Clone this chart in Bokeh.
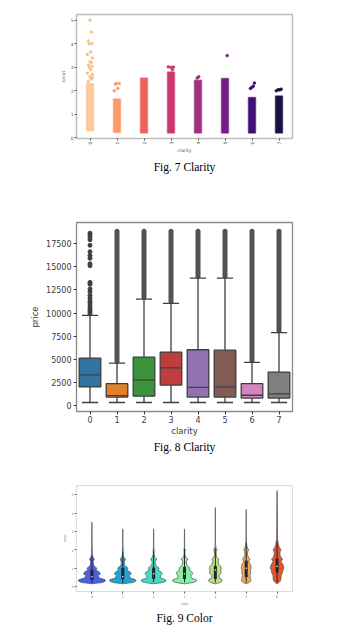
import math
from bokeh.plotting import figure
from bokeh.layouts import column
from bokeh.models import Title, FixedTicker
from bokeh.embed import file_html
from bokeh.resources import INLINE

# ---------------- Fig. 7 : strip plot carat by clarity ----------------
strip_cats = [0, 1, 2, 3, 4, 5, 6, 7]
strip_low = [0.30, 0.23, 0.20, 0.20, 0.20, 0.20, 0.20, 0.20]
strip_high = [2.30, 1.65, 2.55, 2.80, 2.45, 2.52, 1.72, 1.78]
strip_colors = ["#fdc28a", "#fc9a6a", "#ef605d", "#c9386e", "#a0307e", "#72207f", "#420f75", "#1a1042"]
strip_out_cat = [0, 0, 0, 0, 0, 0, 0, 0, 0, 0, 0, 0, 0, 0, 0, 0, 0, 0, 0, 0,
                 1, 1, 1, 1, 1, 3, 3, 3, 3, 4, 4, 5, 6, 6, 6, 6, 7, 7, 7, 7]
strip_out_val = [2.40, 2.50, 2.60, 2.70, 2.75, 2.90, 3.00, 3.05, 3.10, 3.20, 3.25, 3.40,
                 3.55, 3.65, 4.00, 4.01, 4.13, 4.50, 5.01, 2.55,
                 2.00, 2.10, 2.30, 2.31, 2.29, 2.90, 3.00, 3.01, 3.02, 2.60, 2.55, 3.50,
                 2.10, 2.20, 2.15, 2.33, 2.00, 2.04, 2.05, 2.07]

# ---------------- Fig. 8 : box plot price by clarity ----------------
box_cats = [0, 1, 2, 3, 4, 5, 6, 7]
box_q1 = [2050, 950, 1050, 2250, 950, 950, 850, 850]
box_med = [3350, 1100, 2800, 4100, 2000, 2050, 1150, 1300]
box_q3 = [5150, 2400, 5250, 5800, 6050, 6000, 2400, 3650]
box_lo = [370, 370, 370, 370, 370, 370, 370, 370]
box_hi = [9750, 4600, 11500, 11050, 13750, 13750, 4700, 7900]
box_out_max = [18600, 18800, 18800, 18800, 18800, 18800, 18800, 18800]
box_colors = ["#3274a1", "#e1812c", "#3a923a", "#c03d3e", "#9372b2", "#845b53", "#d684bd", "#7f7f7f"]
cat0_outliers = [18600, 18400, 18200, 17900, 17300, 16600, 16200, 15900, 15300, 15100,
                 13300, 13100, 12600, 12300, 11900, 11600, 11300, 11100, 10800, 10500,
                 10300, 10100, 9900]

# ---------------- Fig. 9 : violin plot carat by color ----------------
vio_cats = [0, 1, 2, 3, 4, 5, 6]
vio_colors = ["#4a5fe6", "#1ea3d8", "#40dcc6", "#86f0a8", "#b8e07e", "#f1a85f", "#e5552f"]
vio_grid = [0.15, 0.22, 0.30, 0.38, 0.45, 0.52, 0.60, 0.70, 0.80, 0.90, 1.00, 1.10,
            1.20, 1.35, 1.50, 1.60, 1.75, 1.90, 2.00, 2.10, 2.30, 2.60]
vio_hw = [
    [0.0, 0.34, 0.44, 0.42, 0.27, 0.22, 0.20, 0.28, 0.23, 0.13, 0.16, 0.08, 0.05, 0.04, 0.08, 0.03, 0.012, 0.010, 0.016, 0.007, 0.005, 0.004],
    [0.0, 0.33, 0.43, 0.41, 0.26, 0.23, 0.21, 0.28, 0.23, 0.13, 0.17, 0.09, 0.05, 0.05, 0.09, 0.03, 0.012, 0.010, 0.017, 0.007, 0.005, 0.004],
    [0.0, 0.30, 0.40, 0.38, 0.24, 0.22, 0.22, 0.28, 0.24, 0.14, 0.18, 0.10, 0.06, 0.05, 0.10, 0.04, 0.014, 0.012, 0.020, 0.008, 0.005, 0.004],
    [0.0, 0.29, 0.39, 0.37, 0.23, 0.21, 0.21, 0.27, 0.24, 0.15, 0.18, 0.11, 0.07, 0.06, 0.11, 0.04, 0.015, 0.012, 0.022, 0.008, 0.005, 0.004],
    [0.0, 0.16, 0.22, 0.21, 0.14, 0.12, 0.12, 0.17, 0.19, 0.17, 0.20, 0.17, 0.12, 0.09, 0.11, 0.05, 0.025, 0.03, 0.06, 0.02, 0.008, 0.004],
    [0.0, 0.10, 0.15, 0.15, 0.13, 0.13, 0.12, 0.14, 0.14, 0.14, 0.16, 0.15, 0.14, 0.08, 0.12, 0.07, 0.04, 0.05, 0.08, 0.04, 0.012, 0.006],
    [0.0, 0.06, 0.11, 0.12, 0.13, 0.13, 0.13, 0.16, 0.18, 0.19, 0.22, 0.21, 0.19, 0.13, 0.18, 0.12, 0.09, 0.10, 0.13, 0.08, 0.04, 0.015],
]
vio_top = [3.50, 3.14, 3.14, 3.14, 4.30, 4.20, 5.23]
vio_q1 = [0.36, 0.40, 0.41, 0.41, 0.41, 0.52, 0.77]
vio_med = [0.53, 0.53, 0.70, 0.70, 0.90, 1.00, 1.11]
vio_q3 = [0.90, 1.01, 1.03, 1.07, 1.12, 1.41, 1.52]
vio_wlo = [0.20, 0.20, 0.23, 0.23, 0.23, 0.23, 0.23]
vio_whi = [1.70, 1.90, 1.95, 2.05, 2.10, 2.40, 2.50]

CAP_FONT = "Liberation Serif"


def caption(p, text, standoff):
    t = Title(text=text, align="center", text_font=CAP_FONT, text_font_size="11.5px",
              text_font_style="normal", text_color="#000000", standoff=standoff)
    p.add_layout(t, "below")


def style_axes(p, font, label_font, color, tick_out, standoff, frame_color):
    for ax in (p.xaxis[0], p.yaxis[0]):
        ax.axis_line_color = None
        ax.major_tick_out = tick_out
        ax.major_tick_in = 0
        ax.minor_tick_out = 0
        ax.minor_tick_in = 0
        ax.major_tick_line_color = color
        ax.major_label_text_font = "DejaVu Sans"
        ax.major_label_text_font_size = font
        ax.major_label_text_color = color
        ax.major_label_standoff = standoff
        ax.axis_label_text_font = "DejaVu Sans"
        ax.axis_label_text_font_size = label_font
        ax.axis_label_text_font_style = "normal"
        ax.axis_label_text_color = color
    p.xgrid.visible = False
    p.ygrid.visible = False
    p.outline_line_color = frame_color
    p.background_fill_color = "white"
    p.border_fill_color = "white"


# ---------- figure 1 ----------
p1 = figure(width=354, height=180, x_range=(-0.5, 7.5), y_range=(-0.03, 5.25),
            min_border_left=54, min_border_right=48, min_border_top=14, min_border_bottom=42,
            output_backend="svg", toolbar_location=None,
            x_axis_label="clarity", y_axis_label="carat")
style_axes(p1, "4.5px", "4.5px", "#555555", 2, 1, "#bdbdbd")
p1.outline_line_width = 1.5
p1.xaxis.ticker = FixedTicker(ticks=strip_cats)
p1.yaxis.ticker = FixedTicker(ticks=[0, 1, 2, 3, 4, 5])
p1.xaxis.major_label_orientation = math.pi / 2
p1.xaxis.axis_label_standoff = 1
p1.yaxis.axis_label_standoff = 2

for i, c in enumerate(strip_cats):
    p1.quad(left=c - 0.13, right=c + 0.13, bottom=strip_low[i], top=strip_high[i],
            fill_color=strip_colors[i], line_color=strip_colors[i], line_width=1.5,
            fill_alpha=0.85 if i == 0 else 1.0, line_alpha=0.6)
jit_pattern = [-0.06, 0.05, 0.0, 0.09, -0.1, 0.03, -0.03, 0.08]
ox = [c + jit_pattern[k % len(jit_pattern)] for k, c in enumerate(strip_out_cat)]
oc = [strip_colors[c] for c in strip_out_cat]
p1.scatter(ox, strip_out_val, size=2.5, fill_color=oc, line_color=oc)
caption(p1, "Fig. 7 Clarity", 4)

# ---------- figure 2 ----------
p2 = figure(width=354, height=290, x_range=(-0.5, 7.5), y_range=(-600, 19750),
            min_border_left=56, min_border_right=44, min_border_top=42, min_border_bottom=59,
            output_backend="svg", toolbar_location=None,
            x_axis_label="clarity", y_axis_label="price")
style_axes(p2, "8px", "8.5px", "#3b3b3b", 3, 1, "#8a8a8a")
p2.outline_line_width = 1.3
p2.xaxis.ticker = FixedTicker(ticks=box_cats)
p2.yaxis.ticker = FixedTicker(ticks=[0, 2500, 5000, 7500, 10000, 12500, 15000, 17500])
p2.yaxis.major_label_standoff = 2
p2.xaxis.axis_label_standoff = 0
p2.yaxis.axis_label_standoff = 3

edge = "#3f3f3f"
dense_x = [c for c in box_cats if c != 0]
p2.segment(x0=dense_x, y0=[box_hi[c] + 200 for c in dense_x], x1=dense_x,
           y1=[box_out_max[c] for c in dense_x], line_color=edge, line_width=5,
           line_cap="round", line_alpha=0.9)
p2.scatter([0] * len(cat0_outliers), cat0_outliers, size=4, fill_color=edge, line_color=edge)
p2.segment(x0=box_cats, y0=box_lo, x1=box_cats, y1=box_q1, line_color=edge, line_width=1.3)
p2.segment(x0=box_cats, y0=box_q3, x1=box_cats, y1=box_hi, line_color=edge, line_width=1.3)
p2.segment(x0=[c - 0.3 for c in box_cats], y0=box_lo, x1=[c + 0.3 for c in box_cats], y1=box_lo,
           line_color=edge, line_width=1.3)
p2.segment(x0=[c - 0.3 for c in box_cats], y0=box_hi, x1=[c + 0.3 for c in box_cats], y1=box_hi,
           line_color=edge, line_width=1.3)
p2.quad(left=[c - 0.4 for c in box_cats], right=[c + 0.4 for c in box_cats], bottom=box_q1,
        top=box_q3, fill_color=box_colors, line_color=edge, line_width=1.3)
p2.segment(x0=[c - 0.4 for c in box_cats], y0=box_med, x1=[c + 0.4 for c in box_cats], y1=box_med,
           line_color=edge, line_width=1.3)
caption(p2, "Fig. 8 Clarity", 0)

# ---------- figure 3 ----------
p3 = figure(width=354, height=159, x_range=(-0.5, 6.5), y_range=(-0.27, 5.5),
            min_border_left=76, min_border_right=62, min_border_top=15, min_border_bottom=38,
            output_backend="svg", toolbar_location=None,
            x_axis_label="color", y_axis_label="carat")
style_axes(p3, "3px", "3px", "#666666", 2, 1, "#dcdcdc")
p3.outline_line_width = 1.2
p3.xaxis.ticker = FixedTicker(ticks=vio_cats)
p3.yaxis.ticker = FixedTicker(ticks=[0, 1, 2, 3, 4, 5])
p3.xaxis.axis_label_standoff = 1
p3.yaxis.axis_label_standoff = 2

vx, vy = [], []
for i, c in enumerate(vio_cats):
    ys = list(vio_grid) + [vio_top[i] - 0.05, vio_top[i]]
    hw = list(vio_hw[i]) + [0.003, 0.0]
    xs = [c + w for w in hw] + [c - w for w in reversed(hw)]
    yy = ys + list(reversed(ys))
    vx.append(xs)
    vy.append(yy)
p3.patches(vx, vy, fill_color=vio_colors, line_color="#555555", line_width=0.9, line_alpha=0.8)
p3.segment(x0=vio_cats, y0=vio_wlo, x1=vio_cats, y1=vio_whi, line_color="#262626", line_width=1)
p3.segment(x0=vio_cats, y0=vio_q1, x1=vio_cats, y1=vio_q3, line_color="#262626", line_width=3)
p3.scatter(vio_cats, vio_med, size=1.5, fill_color="white", line_color=None)
caption(p3, "Fig. 9 Color", 5)

layout = column(p1, p2, p3, spacing=0)
open("out.html", "w").write(file_html(layout, INLINE))
